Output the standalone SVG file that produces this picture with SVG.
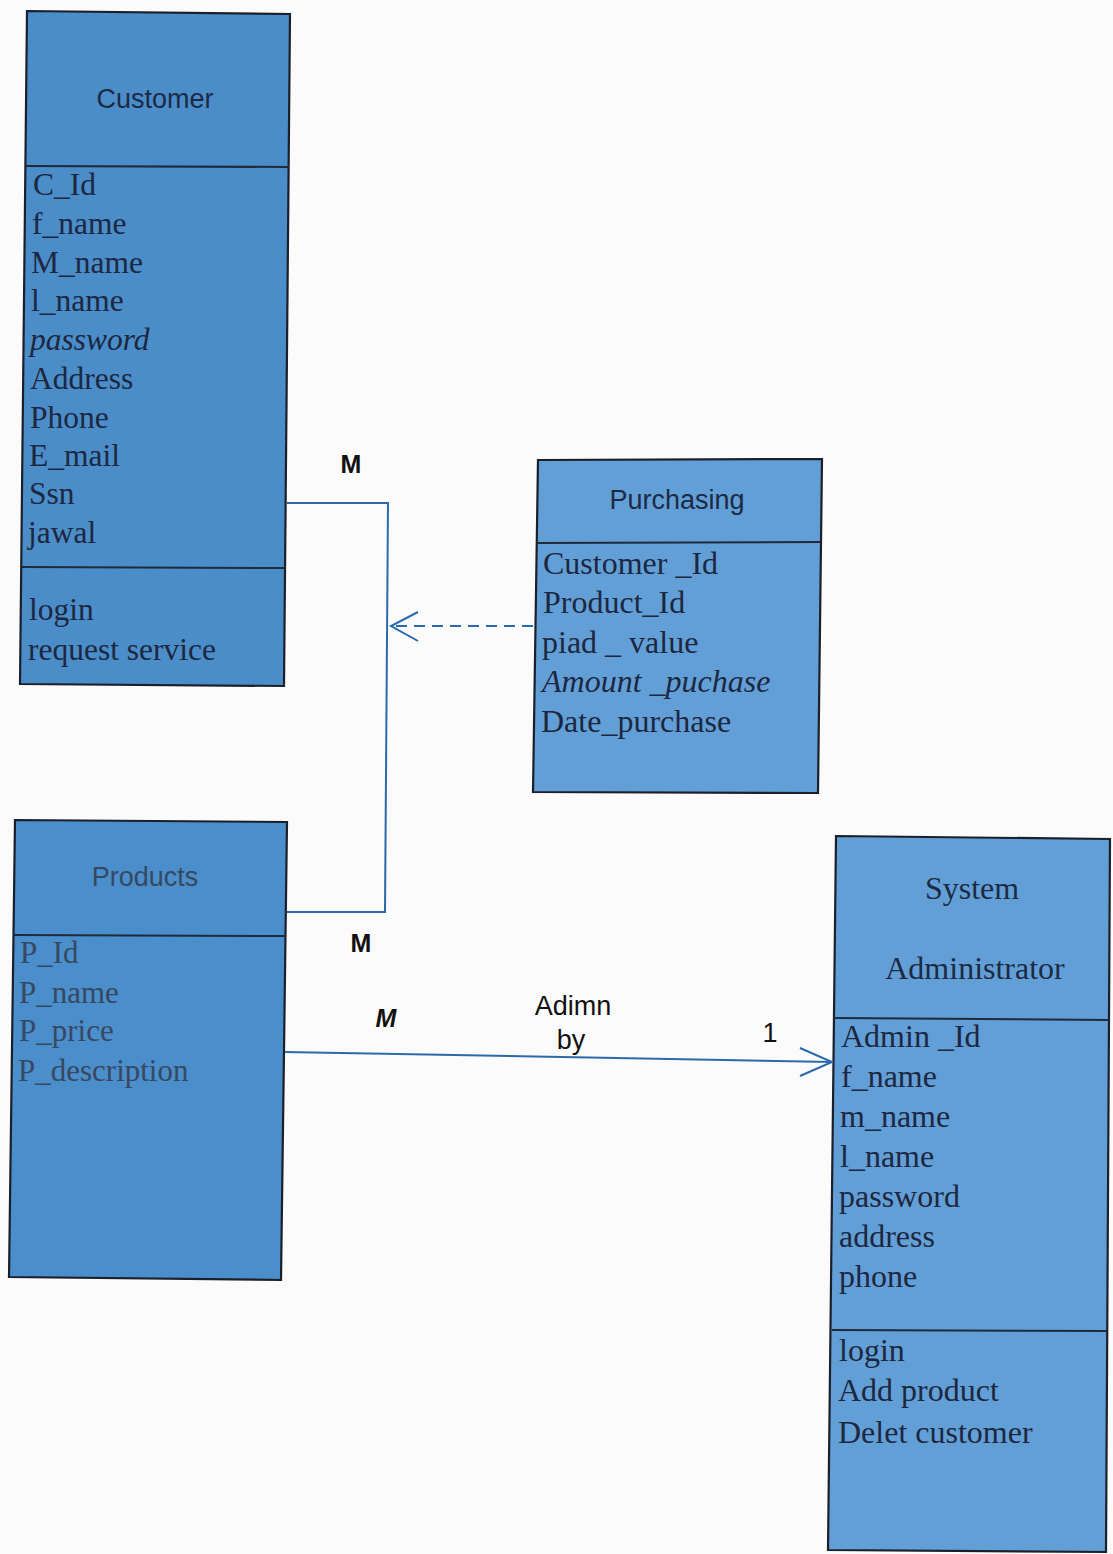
<svg xmlns="http://www.w3.org/2000/svg" width="1113" height="1554" viewBox="0 0 1113 1554">
<style>
.box{stroke:#1a1f2a;stroke-width:2.2}
.div{stroke:#1f2a3a;stroke-width:2}
.title{font-family:"Liberation Sans",Arial,sans-serif;font-size:27px;fill:#1d2a44;text-anchor:middle}
.stitle{font-family:"Liberation Serif","Times New Roman",serif;font-size:32px;fill:#1d2a44;text-anchor:middle}
.attr{font-family:"Liberation Serif","Times New Roman",serif;font-size:32px;fill:#1d2740}
.cust{font-size:31.5px}
.gray{fill:#384860}
.prod{font-size:31px}
.it{font-style:italic}
.conn{fill:none;stroke:#2a6aac;stroke-width:2}
.lbl{font-family:"Liberation Sans",Arial,sans-serif;font-size:27px;fill:#111;text-anchor:middle}
.bold{font-weight:bold;font-size:25px}
</style>
<rect width="1113" height="1554" fill="#fbfbfb"/>
<g id="customer">
<polygon class="box" points="27,11 290,14 284,686 20,684" fill="#4a8dc8"/>
<line class="div" x1="25" y1="166" x2="289" y2="167"/>
<line class="div" x1="22" y1="567" x2="286" y2="568"/>
<text class="title" x="155" y="108">Customer</text>
<text class="attr cust" x="33" y="195">C_Id</text>
<text class="attr cust" x="32" y="234">f_name</text>
<text class="attr cust" x="31" y="273">M_name</text>
<text class="attr cust" x="31" y="311">l_name</text>
<text class="attr cust it" x="30" y="350">password</text>
<text class="attr cust" x="30" y="389">Address</text>
<text class="attr cust" x="30" y="428">Phone</text>
<text class="attr cust" x="29" y="466">E_mail</text>
<text class="attr cust" x="29" y="504">Ssn</text>
<text class="attr cust" x="28" y="543">jawal</text>
<text class="attr cust" x="29" y="620">login</text>
<text class="attr cust" x="28" y="660">request service</text>
</g>
<g id="purchasing">
<polygon class="box" points="538,460 822,459 818,793 533,792" fill="#629fd6"/>
<line class="div" x1="537" y1="543" x2="821" y2="542"/>
<text class="title" x="677" y="509">Purchasing</text>
<text class="attr" x="543" y="574">Customer _Id</text>
<text class="attr" x="543" y="613">Product_Id</text>
<text class="attr" x="542" y="653">piad _ value</text>
<text class="attr it" x="542" y="692">Amount _puchase</text>
<text class="attr" x="541" y="732">Date_purchase</text>
</g>
<g id="products">
<polygon class="box" points="15,820 287,822 281,1280 9,1277" fill="#4a8ecb"/>
<line class="div" x1="14" y1="935" x2="286" y2="936"/>
<text class="title gray" x="145" y="886">Products</text>
<text class="attr prod gray" x="20" y="963">P_Id</text>
<text class="attr prod gray" x="19" y="1003">P_name</text>
<text class="attr prod gray" x="19" y="1041">P_price</text>
<text class="attr prod gray" x="18" y="1081">P_description</text>
</g>
<g id="system-administrator">
<polygon class="box" points="836,836 1110,839 1106,1552 828,1550" fill="#629fd6"/>
<line class="div" x1="834" y1="1018" x2="1109" y2="1020"/>
<line class="div" x1="832" y1="1330" x2="1107" y2="1331"/>
<text class="stitle" x="972" y="899">System</text>
<text class="stitle" x="975" y="979">Administrator</text>
<text class="attr" x="841" y="1047">Admin _Id</text>
<text class="attr" x="841" y="1087">f_name</text>
<text class="attr" x="840" y="1127">m_name</text>
<text class="attr" x="840" y="1167">l_name</text>
<text class="attr" x="839" y="1207">password</text>
<text class="attr" x="839" y="1247">address</text>
<text class="attr" x="839" y="1287">phone</text>
<text class="attr" x="839" y="1361">login</text>
<text class="attr" x="838" y="1401">Add product</text>
<text class="attr" x="838" y="1443">Delet customer</text>
</g>
<g id="connectors">
<polyline class="conn" points="287,503 388,503 385,912 287,912"/>
<line class="conn" x1="533" y1="626" x2="392" y2="626" stroke-dasharray="11,7"/>
<polyline class="conn" points="418,612 391,626 418,641" stroke="#3a78b8"/>
<line class="conn" x1="285" y1="1052" x2="832" y2="1062"/>
<polyline class="conn" points="800,1048 832,1062 800,1076"/>
<text class="lbl bold" x="351" y="473">M</text>
<text class="lbl bold" x="361" y="952">M</text>
<text class="lbl bold it" x="386" y="1027">M</text>
<text class="lbl" x="573" y="1015">Adimn</text>
<text class="lbl" x="571" y="1049">by</text>
<text class="lbl" x="770" y="1042">1</text>
</g>
</svg>
